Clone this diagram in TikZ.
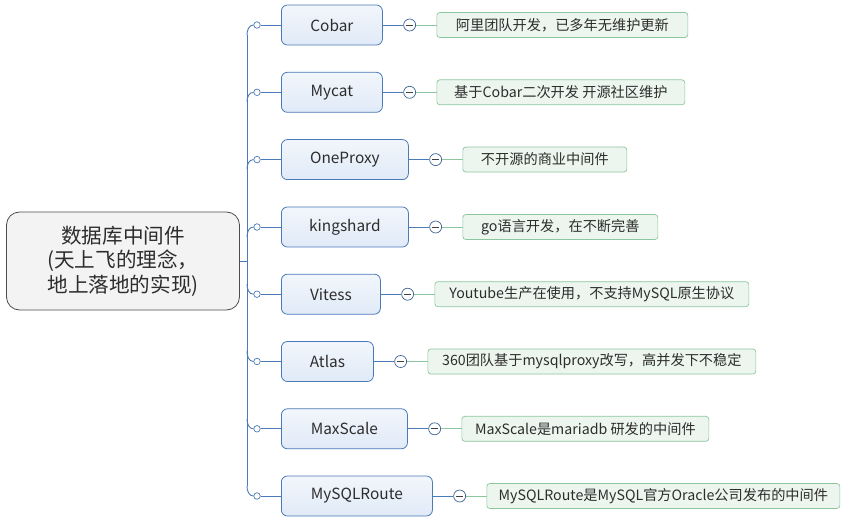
\documentclass[tikz,border=0pt]{standalone}
\usepackage{fontspec}
\newfontfamily\cjk{Noto Sans CJK SC}
\usepackage{tikz}
\usetikzlibrary{positioning}
\definecolor{lineblue}{RGB}{74,122,184}
\definecolor{boxtop}{RGB}{242,246,252}
\definecolor{boxbottom}{RGB}{224,234,247}
\definecolor{notefill}{RGB}{236,246,239}
\definecolor{noteline}{RGB}{140,198,158}
\definecolor{rootfill}{RGB}{243,243,243}
\definecolor{textgray}{RGB}{45,45,45}

\tikzset{
	rootbox/.style={draw=black!70, fill=rootfill, rounded corners=13pt, line width=0.8pt, minimum width=233pt, minimum height=98pt, align=center, text=textgray, font=\cjk\fontsize{20.6}{24.5}\selectfont},
	itembox/.style={draw=lineblue, line width=0.8pt, rounded corners=6pt, top color=boxtop, bottom color=boxbottom, minimum height=40pt, inner sep=0pt, anchor=west, text=textgray, font=\cjk\fontsize{15.4}{18}\selectfont},
	notebox/.style={draw=noteline, fill=notefill, rounded corners=3pt, line width=0.7pt, minimum height=25pt, inner sep=0pt, text=textgray, font=\cjk\fontsize{14.2}{16}\selectfont},
	knob/.style={circle, draw=lineblue, fill=white, line width=0.7pt, minimum size=6.5pt, inner sep=0pt},
	minus/.style={circle, draw=lineblue!80!black, fill=white, line width=0.7pt, minimum size=12pt, inner sep=0pt, right=20.5pt of #1,
		path picture={\draw[line width=0.8pt, black!75] ([xshift=-3.2pt]path picture bounding box.center) -- ([xshift=3.2pt]path picture bounding box.center);}},
	branch/.style={lineblue, line width=0.9pt},
	leaf/.style={noteline, line width=0.9pt}
}

\begin{document}
\begin{tikzpicture}[x=1pt,y=-1pt]
				\useasboundingbox (0,0) rectangle (844,524);
				\node[rootbox] (root) at (123,261) {数据库中间件\\(天上飞的理念，\\地上落地的实现)};
				\coordinate (hub) at (247,261);
				\coordinate (cobarT) at (247,35);
				\coordinate (mycatT) at (247,102);
				\coordinate (oneproxyT) at (247,169);
				\coordinate (kingshardT) at (247,237);
				\coordinate (vitessT) at (247,284);
				\coordinate (atlasT) at (247,351);
				\coordinate (maxscaleT) at (247,419);
				\coordinate (routeT) at (247,486);
				\node[knob] (cobarK) at (257,25) {};
				\node[knob] (mycatK) at (257,92.3) {};
				\node[knob] (oneproxyK) at (257,159.6) {};
				\node[knob] (kingshardK) at (257,227) {};
				\node[knob] (vitessK) at (257,294.2) {};
				\node[knob] (atlasK) at (257,361.5) {};
				\node[knob] (maxscaleK) at (257,428.8) {};
				\node[knob] (routeK) at (257,496) {};
				\node[itembox, minimum width=101pt] (cobar) at (281,25) {Cobar};
				\node[itembox, minimum width=101pt] (mycat) at (281,92.3) {Mycat};
				\node[itembox, minimum width=127pt] (oneproxy) at (281,159.6) {OneProxy};
				\node[itembox, minimum width=127pt] (kingshard) at (281,227) {kingshard};
				\node[itembox, minimum width=99pt] (vitess) at (281,294.2) {Vitess};
				\node[itembox, minimum width=92pt] (atlas) at (281,361.5) {Atlas};
				\node[itembox, minimum width=126pt] (maxscale) at (281,428.8) {MaxScale};
				\node[itembox, minimum width=151pt] (route) at (281,496) {MySQLRoute};
				\node[minus=cobar] (cobarM) {};
				\node[minus=mycat] (mycatM) {};
				\node[minus=oneproxy] (oneproxyM) {};
				\node[minus=kingshard] (kingshardM) {};
				\node[minus=vitess] (vitessM) {};
				\node[minus=atlas] (atlasM) {};
				\node[minus=maxscale] (maxscaleM) {};
				\node[minus=route] (routeM) {};
				\node[notebox, minimum width=251pt, right=20.5pt of cobarM] (cobarN) {阿里团队开发，已多年无维护更新};
				\node[notebox, minimum width=248pt, right=20.5pt of mycatM] (mycatN) {基于Cobar二次开发 开源社区维护};
				\node[notebox, minimum width=164pt, right=20.5pt of oneproxyM] (oneproxyN) {不开源的商业中间件};
				\node[notebox, minimum width=195pt, right=20.5pt of kingshardM] (kingshardN) {go语言开发，在不断完善};
				\node[notebox, minimum width=314pt, right=20.5pt of vitessM] (vitessN) {Youtube生产在使用，不支持MySQL原生协议};
				\node[notebox, minimum width=328pt, right=20.5pt of atlasM] (atlasN) {360团队基于mysqlproxy改写，高并发下不稳定};
				\node[notebox, minimum width=247pt, right=20.5pt of maxscaleM] (maxscaleN) {MaxScale是mariadb 研发的中间件};
				\node[notebox, minimum width=353pt, right=20.5pt of routeM] (routeN) {MySQLRoute是MySQL官方Oracle公司发布的中间件};
				\draw[branch] (root.east) -- (hub);
				\draw[branch] (cobarT) -- (routeT);
				\draw[branch] (cobarT) to[out=90,in=180] (cobarK.west);
				\draw[branch] (mycatT) to[out=90,in=180] (mycatK.west);
				\draw[branch] (oneproxyT) to[out=90,in=180] (oneproxyK.west);
				\draw[branch] (kingshardT) to[out=90,in=180] (kingshardK.west);
				\draw[branch] (vitessT) to[out=-90,in=180] (vitessK.west);
				\draw[branch] (atlasT) to[out=-90,in=180] (atlasK.west);
				\draw[branch] (maxscaleT) to[out=-90,in=180] (maxscaleK.west);
				\draw[branch] (routeT) to[out=-90,in=180] (routeK.west);
				\draw[branch] (cobarK) -- (cobar);
				\draw[branch] (mycatK) -- (mycat);
				\draw[branch] (oneproxyK) -- (oneproxy);
				\draw[branch] (kingshardK) -- (kingshard);
				\draw[branch] (vitessK) -- (vitess);
				\draw[branch] (atlasK) -- (atlas);
				\draw[branch] (maxscaleK) -- (maxscale);
				\draw[branch] (routeK) -- (route);
				\draw[branch] (cobar) -- (cobarM);
				\draw[branch] (mycat) -- (mycatM);
				\draw[branch] (oneproxy) -- (oneproxyM);
				\draw[branch] (kingshard) -- (kingshardM);
				\draw[branch] (vitess) -- (vitessM);
				\draw[branch] (atlas) -- (atlasM);
				\draw[branch] (maxscale) -- (maxscaleM);
				\draw[branch] (route) -- (routeM);
				\draw[leaf] (cobarM) -- (cobarN);
				\draw[leaf] (mycatM) -- (mycatN);
				\draw[leaf] (oneproxyM) -- (oneproxyN);
				\draw[leaf] (kingshardM) -- (kingshardN);
				\draw[leaf] (vitessM) -- (vitessN);
				\draw[leaf] (atlasM) -- (atlasN);
				\draw[leaf] (maxscaleM) -- (maxscaleN);
				\draw[leaf] (routeM) -- (routeN);
\end{tikzpicture}
\end{document}
